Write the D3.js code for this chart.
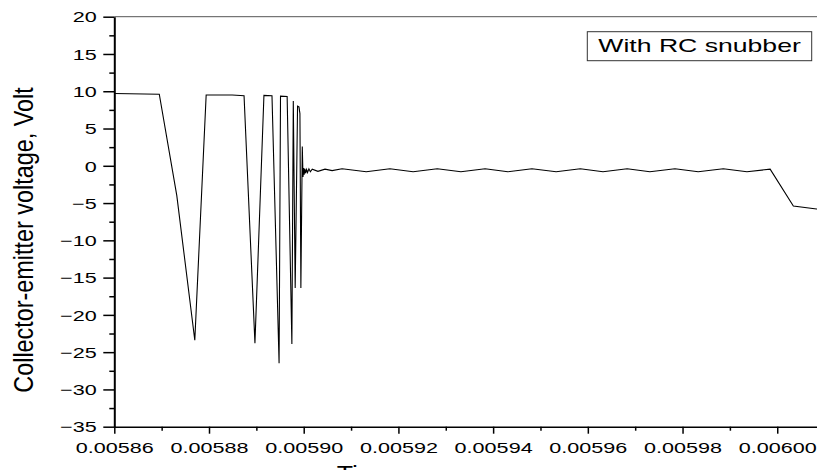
<!DOCTYPE html>
<html>
<head>
<meta charset="utf-8">
<script src="https://cdn.jsdelivr.net/npm/d3@7/dist/d3.min.js"></script>
<style>
  html, body { margin: 0; padding: 0; background: #fff; overflow: hidden; }
  svg { display: block; }
  text { font-family: "Liberation Sans", Arial, Helvetica, sans-serif; fill: #000; }
</style>
</head>
<body>
<svg id="chart" width="817" height="470"></svg>
<script>
// Collector-emitter voltage waveform (time in seconds, voltage in volts)
const timeS = [
  0.0058600, 0.0058695, 0.0058732, 0.0058770, 0.0058794, 0.0058849, 0.0058874,
  0.0058897, 0.0058916, 0.0058933, 0.0058948, 0.0058951, 0.0058965, 0.0058975,
  0.0058978, 0.0058982, 0.0058987, 0.0058990, 0.0058992, 0.0058994, 0.0058997,
  0.00589985, 0.0059000, 0.0059001, 0.00590025, 0.0059004, 0.0059006, 0.0059008,
  0.0059011, 0.0059014, 0.0059018, 0.0059030, 0.0059045, 0.0059060, 0.0059081,
  0.0059132, 0.0059182, 0.0059231, 0.0059282, 0.0059332, 0.0059383, 0.0059431,
  0.0059482, 0.0059533, 0.0059584, 0.0059632, 0.0059683, 0.0059731, 0.0059784,
  0.0059833, 0.0059886, 0.0059936, 0.0059985, 0.0060034, 0.0060083, 0.0060100
];
const voltage = [
  9.7, 9.6, -4.0, -23.4, 9.5, 9.5, 9.4,
  -23.8, 9.45, 9.4, -26.5, 9.35, 9.3, -23.9,
  8.7, -16.4, 8.0, 7.9, 7.0, -16.4, 2.6,
  -1.5, -0.3, -1.2, -0.4, -1.0, -0.5, -0.9,
  -0.4, -0.8, -0.45, -0.75, -0.45, -0.65, -0.4,
  -0.8, -0.4, -0.8, -0.4, -0.8, -0.4, -0.8,
  -0.4, -0.8, -0.4, -0.8, -0.4, -0.8, -0.4,
  -0.8, -0.4, -0.8, -0.45, -5.4, -5.8, -5.9
];

// Axis ticks
const xTicks = [0.00586, 0.00588, 0.00590, 0.00592, 0.00594, 0.00596, 0.00598, 0.00600];
const xMinorTicks = [0.00587, 0.00589, 0.00591, 0.00593, 0.00595, 0.00597, 0.00599, 0.00601];
const yTicks = [-35, -30, -25, -20, -15, -10, -5, 0, 5, 10, 15, 20];
const yMinorTicks = [-32.5, -27.5, -22.5, -17.5, -12.5, -7.5, -2.5, 2.5, 7.5, 12.5, 17.5];

const xLabel = "Time";
const yLabel = "Collector-emitter voltage, Volt";
const legendLabel = "With RC snubber";

const xDomain = [0.00586, 0.00601];
const yDomain = [-35, 20];

const svg = d3.select("#chart");

const plot = { left: 114.3, right: 824.6, top: 16.7, bottom: 426.7 };

const x = d3.scaleLinear().domain(xDomain).range([plot.left, plot.right]);
const y = d3.scaleLinear().domain(yDomain).range([plot.bottom, plot.top]);

// wide, squat glyphs used for the tick labels
const tickFont = 15, tickStretch = 1.44;

svg.append("defs").append("clipPath").attr("id", "plot-clip")
  .append("rect")
  .attr("x", plot.left).attr("y", plot.top - 1)
  .attr("width", plot.right - plot.left).attr("height", plot.bottom - plot.top + 2);

// Frame: top and right borders
svg.append("path")
  .attr("d", `M${plot.left},${plot.top}H${plot.right}V${plot.bottom}`)
  .attr("fill", "none")
  .attr("stroke", "#555")
  .attr("stroke-width", 1);

// Waveform
const points = timeS.map((t, i) => [t, voltage[i]]);
svg.append("path")
  .datum(points)
  .attr("clip-path", "url(#plot-clip)")
  .attr("fill", "none")
  .attr("stroke", "#000")
  .attr("stroke-width", 1.1)
  .attr("stroke-linejoin", "miter")
  .attr("d", d3.line().x(d => x(d[0])).y(d => y(d[1])));

// Bottom axis
const xAxisG = svg.append("g")
  .attr("transform", `translate(0,${plot.bottom})`)
  .call(d3.axisBottom(x).tickValues(xTicks).tickSize(7).tickSizeOuter(0)
    .tickFormat(d3.format(".5f")));
xAxisG.select(".domain").attr("stroke", "#000").attr("stroke-width", 1.6);
xAxisG.selectAll(".tick line").attr("stroke", "#000").attr("stroke-width", 1.5);
xAxisG.selectAll(".tick text")
  .attr("y", 26).attr("dy", 0)
  .attr("font-size", tickFont)
  .attr("transform", `scale(${tickStretch},1)`);

const xMinorG = svg.append("g")
  .attr("transform", `translate(0,${plot.bottom})`)
  .call(d3.axisBottom(x).tickValues(xMinorTicks).tickSize(4).tickSizeOuter(0).tickFormat(""));
xMinorG.select(".domain").remove();
xMinorG.selectAll(".tick line").attr("stroke", "#000").attr("stroke-width", 1.5);

// Left axis
const yAxisG = svg.append("g")
  .attr("transform", `translate(${plot.left},0)`)
  .call(d3.axisLeft(y).tickValues(yTicks).tickSize(11).tickSizeOuter(0));
yAxisG.select(".domain").attr("stroke", "#000").attr("stroke-width", 2);
yAxisG.selectAll(".tick line").attr("stroke", "#000").attr("stroke-width", 1.5);
yAxisG.selectAll(".tick text")
  .attr("x", 0).attr("dy", "0.35em")
  .attr("font-size", tickFont)
  .attr("transform", `translate(-17.6,0) scale(${tickStretch},1)`);

const yMinorG = svg.append("g")
  .attr("transform", `translate(${plot.left},0)`)
  .call(d3.axisLeft(y).tickValues(yMinorTicks).tickSize(5).tickSizeOuter(0).tickFormat(""));
yMinorG.select(".domain").remove();
yMinorG.selectAll(".tick line").attr("stroke", "#000").attr("stroke-width", 1.5);

// Axis titles
svg.append("text")
  .attr("transform", `translate(33,240) scale(1.2,1) rotate(-90)`)
  .attr("text-anchor", "middle")
  .attr("font-size", 23.4)
  .text(yLabel);

svg.append("text")
  .attr("transform", `translate(336.7,482.5) scale(1.16,1)`)
  .attr("text-anchor", "start")
  .attr("font-size", 23)
  .text(xLabel);

// Legend box
const legend = svg.append("g").attr("transform", "translate(587.3,31.7)");
legend.append("rect")
  .attr("width", 224.4).attr("height", 29)
  .attr("fill", "#fff")
  .attr("stroke", "#333")
  .attr("stroke-width", 1);
legend.append("text")
  .attr("transform", "translate(11,20.6) scale(1.4,1)")
  .attr("font-size", 19)
  .text(legendLabel);
</script>
</body>
</html>
